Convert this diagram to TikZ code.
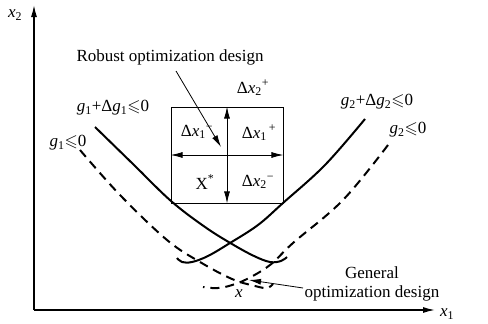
\documentclass[tikz,border=0pt]{standalone}
\usepackage{fontspec}
\setmainfont{Liberation Serif}
\usepackage{amssymb}
\usetikzlibrary{arrows.meta}

\newcommand{\vx}[1]{\textit{x}\textsubscript{#1}}
\newcommand{\vg}[1]{\textit{g}\textsubscript{#1}}
\newcommand{\lesl}{$\leqslant$}

\tikzset{
	curve/.style={line width=2pt, line join=round},
	dcurve/.style={curve, dash pattern=on 9pt off 6pt},
	label/.style={inner sep=0pt}
}

\begin{document}
\begin{tikzpicture}[x=1pt, y=-1pt, >={Latex[length=12pt,width=6pt]}, font=\fontsize{17}{19}\selectfont]
\useasboundingbox (0,0) rectangle (488,324);

% axes
\coordinate (O) at (34,310);
\coordinate (xend) at (435,310);
\coordinate (yend) at (34,5);
\draw[line width=1.4pt, ->] (O) -- (xend);
\draw[line width=1.4pt, ->] (O) -- (yend);
\node[label] (xlab) at (447,314) {\vx{1}};
\node[label] (ylab) at (15,15) {\vx{2}};

% constraint curves
\draw[curve] plot[smooth, tension=0.6] coordinates {(95,127) (134,165) (171,201) (205,227) (232,244) (254,256) (270,262) (281,261) (287,257)};
\draw[curve] plot[smooth, tension=0.6] coordinates {(365,119) (325,165) (283,203) (258,225) (230,243) (208,256) (192,262) (182,262) (177,258)};
\draw[dcurve] plot[smooth, tension=0.6] coordinates {(80,150) (120,195) (167,240) (200,262) (232,279) (255,286) (267,288) (273,284)};
\draw[dcurve] plot[smooth, tension=0.6] coordinates {(388,145) (343,200) (293,243) (270,265) (245,280) (225,287) (212,288) (203,287)};

\node[label] (g1d) at (113,108) {\vg{1}+Δ\vg{1}\lesl 0};
\node[label] (g1) at (68,143) {\vg{1}\lesl 0};
\node[label] (g2d) at (377,102) {\vg{2}+Δ\vg{2}\lesl 0};
\node[label] (g2) at (408,130) {\vg{2}\lesl 0};

% tolerance box
\node[draw, line width=0.9pt, minimum width=112pt, minimum height=96pt, inner sep=0pt] (box) at (227,155) {};
\draw[line width=0.9pt, <->] (box.north) -- (box.south);
\draw[line width=0.9pt, <->] (box.west) -- (box.east);
\node[label] (dx1m) at (197,132) {Δ\vx{1}\textsuperscript{−}};
\node[label] (dx1p) at (259,133) {Δ\vx{1}\textsuperscript{\,+}};
\node[label] (xs) at (205,182) {X\textsuperscript{*}};
\node[label] (dx2m) at (258,182) {Δ\vx{2}\textsuperscript{−}};
\node[label] (dx2p) at (253,88) {Δ\vx{2}\textsuperscript{+}};

% robust design
\node[label] (robust) at (170,57) {Robust optimization design};
\coordinate (rtip) at (221,147);
\draw[line width=0.8pt, ->] (176,71) -- (rtip);

% general design
\node[label, align=center] (general) at (372,284) {General\\optimization design};
\node[label] (xopt) at (239,294) {\textit{x}};
\coordinate (gtail) at (303,288);
\coordinate (gtip) at (249,280);
\draw[line width=0.8pt, ->] (gtail) -- (gtip);

\end{tikzpicture}
\end{document}
